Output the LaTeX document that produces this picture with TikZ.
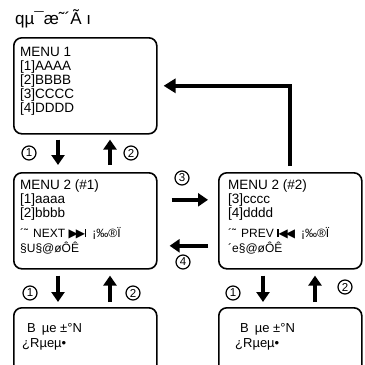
\documentclass[tikz,border=0pt]{standalone}
\usepackage{fontspec}
\setmainfont{Liberation Sans}
\newfontfamily\symf{DejaVu Sans}
\usetikzlibrary{arrows.meta}
\newcommand{\fwdglyph}{{\symf ▶\kern-2pt▶}\kern-0.3pt\rule{1.8pt}{8pt}}
\newcommand{\backglyph}{\rule{1.8pt}{8pt}\kern-0.3pt{\symf ◀\kern-2pt◀}}
\begin{document}
\begin{tikzpicture}[x=1pt,y=-1pt,
 box/.style={draw, line width=1.6pt, rounded corners=8pt, minimum width=143pt, minimum height=96pt, anchor=north west, inner sep=0pt},
 lowbox/.style={box, minimum height=90pt},
 txt/.style={anchor=base west, inner sep=0pt, font=\fontsize{13.5}{14}\selectfont},
 small/.style={anchor=base west, inner sep=0pt, font=\fontsize{12}{12}\selectfont},
 low/.style={anchor=base west, inner sep=0pt, font=\fontsize{13}{13}\selectfont},
 title/.style={anchor=base west, inner sep=0pt, font=\fontsize{17}{18}\selectfont},
 num/.style={draw, circle, line width=1.2pt, minimum size=14pt, inner sep=0pt, font=\fontsize{11.5}{11.5}\selectfont},
 arr/.style={line width=3.4pt, -{Triangle[width=13pt,length=10pt]}},
 bigarr/.style={line width=4pt, -{Triangle[width=14pt,length=12pt]}},
]
\useasboundingbox (0,0) rectangle (365,365);
\clip (0,0) rectangle (365,365);

\node[title] (ttl) at (15,24) {qµ¯æ˜´Ã ı};

% boxes
\node[box] (b1) at (13,37) {};
\node[box] (b2) at (13,172) {};
\node[box] (b3) at (218,172) {};
\node[lowbox] (b4) at (13,307) {};
\node[lowbox] (b5) at (218,307) {};

% box 1 text
\node[txt] (t11) at (20,56) {MENU 1};
\node[txt] (t12) at (20,70) {[1]AAAA};
\node[txt] (t13) at (20,84) {[2]BBBB};
\node[txt] (t14) at (20,98) {[3]CCCC};
\node[txt] (t15) at (20,112) {[4]DDDD};

% box 2 text
\node[txt] (t21) at (20,189) {MENU 2 (\#1)};
\node[txt] (t22) at (20,203) {[1]aaaa};
\node[txt] (t23) at (20,217) {[2]bbbb};
\node[small] (t24) at (20,237) {´˜\hspace{5pt}NEXT \fwdglyph\hspace{6pt}¡‰®Ï};
\node[small] (t25) at (20,252) {§U§@øÔÊ};

% box 3 text
\node[txt] (t31) at (228,189) {MENU 2 (\#2)};
\node[txt] (t32) at (228,203) {[3]cccc};
\node[txt] (t33) at (228,217) {[4]dddd};
\node[small] (t34) at (228,237) {´˜\hspace{5pt}PREV \backglyph\hspace{6pt}¡‰®Ï};
\node[small] (t35) at (228,252) {´e§@øÔÊ};

% bottom boxes text
\node[low] (t41) at (27,332) {B\hspace{6pt}µe ±°N};
\node[low] (t42) at (22,347) {¿Rµeµ•};
\node[low] (t51) at (240,332) {B\hspace{6pt}µe ±°N};
\node[low] (t52) at (235,347) {¿Rµeµ•};

% vertical arrows row 1
\draw[arr] ([shift={(45,5)}]b1.south west) -- ([shift={(45,-7)}]b2.north west);
\draw[arr] ([shift={(97,-7)}]b2.north west) -- ([shift={(97,5)}]b1.south west);
\node[num] (n11) at (29,153) {1};
\node[num] (n12) at (131,153) {2};

% vertical arrows row 2 left
\draw[arr] ([shift={(45,6)}]b2.south west) -- ([shift={(45,-5)}]b4.north west);
\draw[arr] ([shift={(97,-5)}]b4.north west) -- ([shift={(97,6)}]b2.south west);
\node[num] (n21) at (30,293) {1};
\node[num] (n22) at (133,293) {2};

% vertical arrows row 2 right
\draw[arr] ([shift={(45,6)}]b3.south west) -- ([shift={(45,-5)}]b5.north west);
\draw[arr] ([shift={(97,-5)}]b5.north west) -- ([shift={(97,6)}]b3.south west);
\node[num] (n31) at (233,293) {1};
\node[num] (n32) at (345,287) {2};

% horizontal arrows
\draw[arr] ([shift={(14,-21)}]b2.east) -- ([shift={(-10,-21)}]b3.west);
\draw[arr] ([shift={(-10,25)}]b3.west) -- ([shift={(12,25)}]b2.east);
\node[num] (n3) at (182,178) {3};
\node[num] (n4) at (183,262) {4};

% return arrow to menu 1
\draw[bigarr, shorten <=6pt, shorten >=6pt] (b3.north) |- (b1.east);
\end{tikzpicture}
\end{document}
